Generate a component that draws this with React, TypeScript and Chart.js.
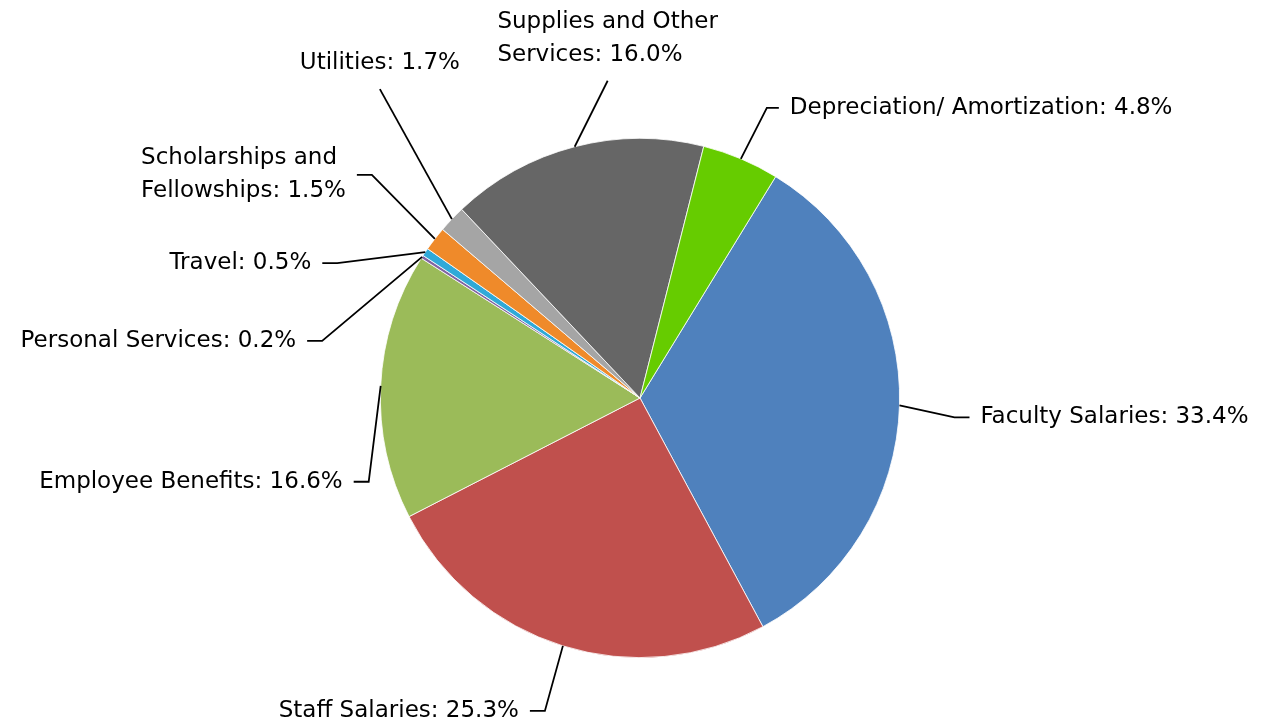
import React, { useEffect, useRef } from "react";
import { Chart, registerables } from "chart.js";

Chart.register(...registerables);

const categories = [
  "Faculty Salaries",
  "Staff Salaries",
  "Employee Benefits",
  "Personal Services",
  "Travel",
  "Scholarships and\nFellowships",
  "Utilities",
  "Supplies and Other\nServices",
  "Depreciation/ Amortization",
];

const shares = [33.4, 25.3, 16.6, 0.2, 0.5, 1.5, 1.7, 16.0, 4.8];

const sliceColors = [
  "#4F81BD",
  "#C0504D",
  "#9BBB59",
  "#8064A2",
  "#2FA9D8",
  "#EF8A2A",
  "#A5A5A5",
  "#666666",
  "#66CC00",
];

// leader-line layout: elbow offset from the slice edge, horizontal leg, label side
const labelLayout = [
  { dx: 55, dy: 12, leg: 15, side: "right" },
  { dx: -18, dy: 65, leg: -15, side: "left" },
  { dx: -12, dy: 96, leg: -15, side: "left" },
  { dx: -100, dy: 84, leg: -15, side: "left" },
  { dx: -88, dy: 11, leg: -15, side: "left" },
  { dx: -63, dy: -64, leg: -15, side: "left" },
  { dx: -72, dy: -130, leg: 0, side: "top" },
  { dx: 33, dy: -66, leg: 0, side: "top" },
  { dx: 26, dy: -51, leg: 12, side: "right" },
];

const FONT = "23px 'DejaVu Sans'";
const LINE_H = 33;
const GAP = 11;

const leaderPlugin = {
  id: "leaderLabels",
  afterDraw(chart: any) {
    const ctx = chart.ctx as CanvasRenderingContext2D;
    const meta = chart.getDatasetMeta(0);
    ctx.save();
    ctx.font = FONT;
    ctx.fillStyle = "#000";
    ctx.strokeStyle = "#000";
    ctx.lineWidth = 1.8;
    ctx.textBaseline = "middle";
    ctx.textAlign = "left";
    meta.data.forEach((arc: any, i: number) => {
      const p = arc.getProps(["x", "y", "startAngle", "endAngle", "outerRadius"], true);
      const mid = (p.startAngle + p.endAngle) / 2;
      const ax = p.x + Math.cos(mid) * p.outerRadius;
      const ay = p.y + Math.sin(mid) * p.outerRadius;
      const L = labelLayout[i];
      const ex = ax + L.dx;
      const ey = ay + L.dy;
      const lx = ex + L.leg;
      ctx.beginPath();
      ctx.moveTo(ax, ay);
      ctx.lineTo(ex, ey);
      if (L.leg !== 0) ctx.lineTo(lx, ey);
      ctx.stroke();

      const text = `${categories[i]}: ${shares[i].toFixed(1)}%`;
      const lines = text.split("\n");
      const widths = lines.map((s) => ctx.measureText(s).width);
      const bw = Math.max(...widths);
      let left: number;
      let firstY: number;
      if (L.side === "right") {
        left = lx + GAP;
        firstY = ey - ((lines.length - 1) * LINE_H) / 2;
      } else if (L.side === "left") {
        left = lx - GAP - bw;
        firstY = ey - ((lines.length - 1) * LINE_H) / 2;
      } else {
        left = ex - bw / 2;
        firstY = ey - 26 - (lines.length - 1) * LINE_H;
      }
      lines.forEach((s, k) => {
        ctx.fillText(s, left, firstY + k * LINE_H);
      });
    });
    ctx.restore();
  },
};

export default function App() {
  const ref = useRef<HTMLCanvasElement | null>(null);
  useEffect(() => {
    if (!ref.current) return;
    const chart = new Chart(ref.current, {
      type: "pie",
      data: {
        labels: categories,
        datasets: [
          {
            data: shares,
            backgroundColor: sliceColors,
            borderColor: "#ffffff",
            borderWidth: 0.8,
          },
        ],
      },
      options: {
        responsive: false,
        animation: false,
        rotation: 31.5,
        layout: { padding: { left: 380, right: 362, top: 138, bottom: 69 } },
        plugins: {
          legend: { display: false },
          tooltip: { enabled: false },
        },
      },
      plugins: [leaderPlugin],
    });
    return () => chart.destroy();
  }, []);
  return (
    <div style={{ position: "absolute", left: 0, top: 0, width: 1262, height: 727, background: "#fff" }}>
      <canvas ref={ref} width={1262} height={727} />
    </div>
  );
}
